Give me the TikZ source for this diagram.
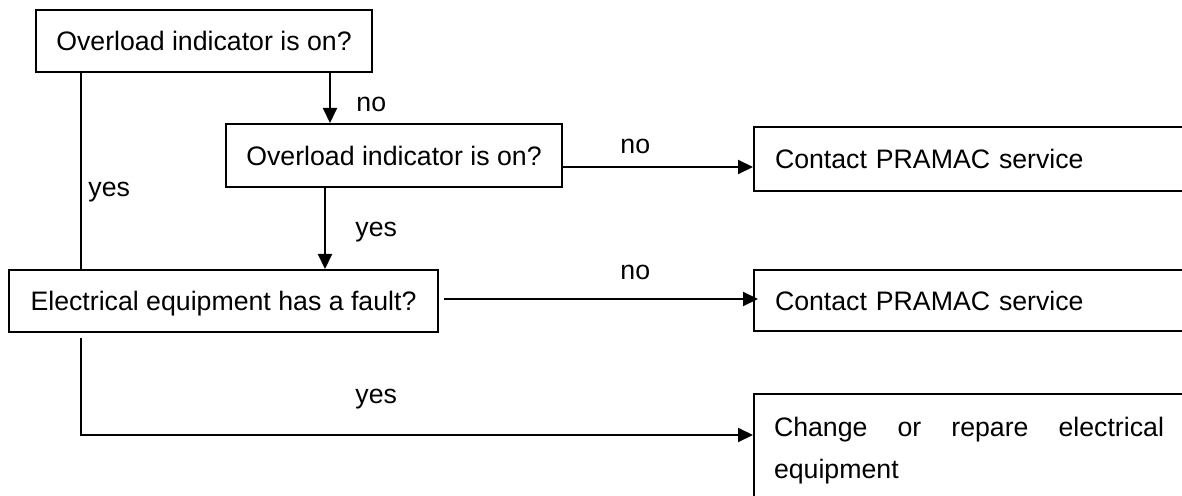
\documentclass[tikz,border=0pt]{standalone}
\usepackage{fontspec}
\setmainfont{Liberation Sans}
\usetikzlibrary{arrows.meta,calc}
\newcommand\fsz{\fontsize{13.35pt}{21pt}\selectfont}
\begin{document}
\begin{tikzpicture}[x=0.5pt,y=-0.5pt,
  box/.style={draw,line width=1pt,rectangle,inner sep=0pt,anchor=north west,font=\fsz,text height=10pt,text depth=0pt},
  rbox/.style={draw,line width=1pt,rectangle,anchor=north west,inner ysep=0pt,inner xsep=10.5pt,text width=203.5pt,align=left,font=\fsz,text height=10pt,text depth=0pt},
  conn/.style={line width=1pt},
  arr/.style={line width=1pt,-{Triangle[length=7.5pt,width=7pt]}},
  lbl/.style={inner sep=0pt,anchor=base west,font=\fsz}]
\useasboundingbox (0,0) rectangle (1182,496);
\clip (0,0) rectangle (1182,496);
\node[box,minimum width=168pt,minimum height=31pt] (A) at (35,9) {Overload indicator is on?};
\node[box,minimum width=168pt,minimum height=31.5pt] (B) at (225,123) {Overload indicator is on?};
\node[box,minimum width=214.5pt,minimum height=31pt] (C) at (8,269) {Electrical equipment has a fault?};
\node[rbox,minimum height=32pt] (D) at (753,126) {Contact PRAMAC service};
\node[rbox,minimum height=30.5pt] (E) at (753,269) {Contact PRAMAC service};
\node[draw,line width=1pt,rectangle,anchor=north west,inner ysep=0pt,inner xsep=10pt,font=\fsz,text height=21pt,text depth=70pt] (F) at (753,393) {\parbox[t]{195pt}{Change or repare electrical\linebreak equipment}\hspace*{18pt}};
\draw[arr] ([xshift=-21.5pt]A.south east) -- ([xshift=-21.5pt]A.south east |- B.north);
\draw[conn] ([xshift=23pt]A.south west) -- ([xshift=23pt]A.south west |- C.north);
\draw[arr] ([xshift=50pt]B.south west) -- ([xshift=50pt]B.south west |- C.north);
\draw[arr] ([yshift=10.5pt]B.south east) -- ([yshift=10.5pt]B.south east -| D.west);
\draw[arr] ([xshift=2.5pt,yshift=1pt]C.east) -- ([xshift=2.5pt,yshift=1pt]C.east -| E.west);
\draw[arr] ([xshift=36.5pt,yshift=-2.5pt]C.south west) |- ([yshift=-21pt]F.north west);
\node[lbl] (l1) at (356,112) {no};
\node[lbl] (l2) at (88,197) {yes};
\node[lbl] (l3) at (620,154) {no};
\node[lbl] (l4) at (355,237) {yes};
\node[lbl] (l5) at (620,280) {no};
\node[lbl] (l6) at (355,403) {yes};
\end{tikzpicture}
\end{document}
